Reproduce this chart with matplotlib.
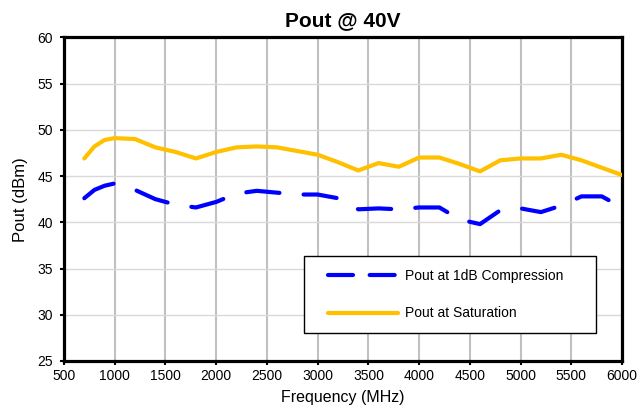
import matplotlib
matplotlib.use('Agg')
import matplotlib.pyplot as plt
from matplotlib.lines import Line2D
from matplotlib.legend_handler import HandlerLine2D

plt.rcParams['font.family'] = ['Liberation Sans', 'DejaVu Sans']

# 频率 (MHz)
freq = [700, 800, 900, 1000, 1200, 1400, 1600, 1800, 2000, 2200, 2400, 2600,
        2800, 3000, 3200, 3400, 3600, 3800, 4000, 4200, 4400, 4600, 4800,
        5000, 5200, 5400, 5600, 5800, 6000]

# 1dB 压缩点输出功率
p1db = [42.6, 43.5, 43.95, 44.2, 43.5, 42.5, 41.9, 41.6, 42.2, 43.1, 43.4, 43.2,
        43.0, 43.0, 42.6, 41.4, 41.5, 41.4, 41.6, 41.6, 40.3, 39.8, 41.3,
        41.5, 41.1, 41.8, 42.8, 42.8, 41.6]

# 饱和输出功率
psat = [46.9, 48.2, 48.9, 49.1, 49.0, 48.1, 47.6, 46.9, 47.6, 48.1, 48.2, 48.1,
        47.7, 47.3, 46.5, 45.6, 46.4, 46.0, 47.0, 47.0, 46.3, 45.5, 46.7,
        46.9, 46.9, 47.3, 46.7, 45.9, 45.1]

labels = ['Pout at 1dB Compression', 'Pout at Saturation']
blue, gold = '#0000ff', '#ffc000'

fig = plt.figure(figsize=(6.4, 4.11), dpi=100)
ax = fig.add_axes([0.1, 0.1217, 0.872, 0.7875])

ax.plot(freq, p1db, color=blue, lw=3, dashes=(8, 5.8),
        dash_capstyle='round', solid_capstyle='round', zorder=3)
ax.plot(freq, psat, color=gold, lw=3, solid_capstyle='round', zorder=3)

ax.set_xlim(500, 6000)
ax.set_ylim(25, 60)
ax.set_xticks(range(500, 6001, 500))
ax.set_yticks(range(25, 61, 5))
ax.tick_params(labelsize=10, direction='out', length=3, width=1.5)
ax.tick_params(axis='x', pad=3)
ax.tick_params(axis='y', pad=5)

ax.xaxis.grid(True, color='#c0c0c0', lw=1.5)
ax.yaxis.grid(True, color='#d9d9d9', lw=1)
ax.set_axisbelow(True)
for s in ax.spines.values():
    s.set_linewidth(2.3)
    s.set_color('black')

ax.set_title('Pout @ 40V', fontsize=15, fontweight='bold', pad=8)
ax.set_xlabel('Frequency (MHz)', fontsize=11.5, labelpad=5)
ax.set_ylabel('Pout (dBm)', fontsize=12, labelpad=7)

# 图例用较短的虚线
handles = [Line2D([], [], color=blue, lw=3, dashes=(6, 4), dash_capstyle='round'),
           Line2D([], [], color=gold, lw=3, solid_capstyle='round')]
hm = {h: HandlerLine2D(xpad=0.86) for h in handles}
leg = ax.legend(handles, labels, handler_map=hm,
                loc='lower left', bbox_to_anchor=(0.43, 0.0865, 0.523, 0.238),
                mode='expand', fontsize=10, fancybox=False, edgecolor='black',
                framealpha=1, handlelength=5.86, handletextpad=0.5,
                borderaxespad=0, labelspacing=1.7, borderpad=0.9)
leg.get_frame().set_linewidth(1)

fig.savefig('out.png', dpi=100)
